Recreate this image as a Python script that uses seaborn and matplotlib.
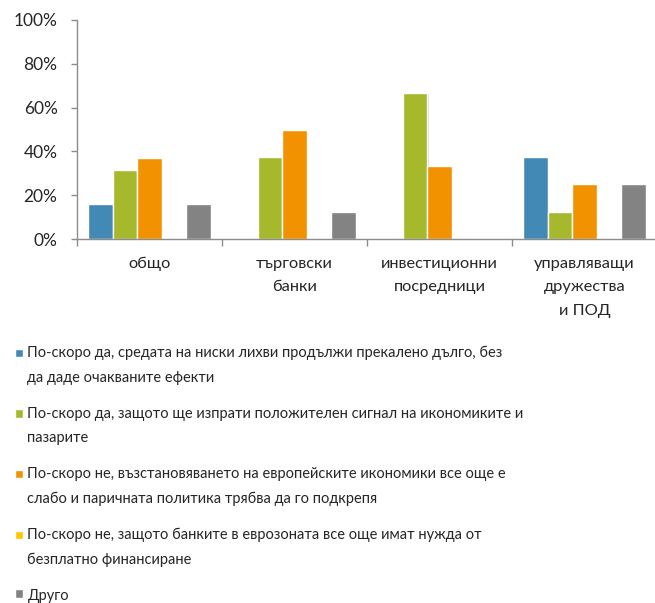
import matplotlib
matplotlib.use("Agg")
import matplotlib.pyplot as plt
import matplotlib.patheffects as pe
import seaborn as sns
import pandas as pd
from matplotlib.patches import Rectangle
from matplotlib.legend_handler import HandlerPatch
from matplotlib.ticker import FixedLocator, PercentFormatter

# Survey groups (x axis)
categories = ["общо", "търговски\nбанки", "инвестиционни\nпосредници",
              "управляващи\nдружества\nи ПОД"]

# Answer options (legend), with their line breaks
answers = [
    "По-скоро да, средата на ниски лихви продължи прекалено дълго, без\nда даде очакваните ефекти",
    "По-скоро да, защото ще изпрати положителен сигнал на икономиките и\nпазарите",
    "По-скоро не, възстановяването на европейските икономики все още е\nслабо и паричната политика трябва да го подкрепя",
    "По-скоро не, защото банките в еврозоната все още имат нужда от\nбезплатно финансиране",
    "Друго",
]

# Share of respondents (%) per answer, one value per group
too_long = [15.8, 0.0, 0.0, 37.5]
positive_signal = [31.6, 37.5, 66.7, 12.5]
recovery_weak = [36.8, 50.0, 33.3, 25.0]
banks_need_funding = [0.0, 0.0, 0.0, 0.0]
other = [15.8, 12.5, 0.0, 25.0]

series = [too_long, positive_signal, recovery_weak, banks_need_funding, other]
colors = ["#4389B5", "#A6B82C", "#F39200", "#FFC600", "#838383"]

rows = []
for ans, vals in zip(answers, series):
    for cat, v in zip(categories, vals):
        rows.append({"group": cat, "answer": ans, "share": v})
df = pd.DataFrame(rows)

sns.set_style("white")
plt.rcParams["font.family"] = ["Lato", "DejaVu Sans"]
text_color = "#262626"
axis_color = "#8C8C8C"

fig = plt.figure(figsize=(6.55, 6.03), dpi=100)
ax = fig.add_axes([77 / 655, 1 - 239 / 603, 580 / 655, 219 / 603])

sns.barplot(data=df, x="group", y="share", hue="answer", order=categories,
            hue_order=answers, palette=colors, width=0.845, gap=0,
            edgecolor="white", linewidth=1.0, saturation=1, ax=ax, legend=True)

# soft drop shadow behind the bars
for bar in ax.patches:
    if bar.get_height() > 0:
        bar.set_path_effects([
            pe.SimplePatchShadow(offset=(1.2, -1.2), shadow_rgbFace="#9a9a9a",
                                 alpha=0.35),
            pe.Normal(),
        ])

ax.set_xlim(-0.5, 3.5)
ax.set_ylim(0, 100)
ax.yaxis.set_major_locator(FixedLocator([0, 20, 40, 60, 80, 100]))
ax.yaxis.set_major_formatter(PercentFormatter(decimals=0))
ax.set_xlabel("")
ax.set_ylabel("")

for side in ["top", "right"]:
    ax.spines[side].set_visible(False)
for side in ["left", "bottom"]:
    ax.spines[side].set_color(axis_color)
    ax.spines[side].set_linewidth(1.0)
    ax.spines[side].set_zorder(3)

ax.tick_params(axis="y", which="major", direction="out", length=4.3, width=1,
               color=axis_color, labelsize=12.5, labelcolor=text_color, pad=9.7,
               left=True)
ax.set_xticks(range(len(categories)))
ax.set_xticklabels(categories, linespacing=1.85)
ax.tick_params(axis="x", which="major", length=0, labelsize=11.8,
               labelcolor=text_color, pad=13)
ax.set_xticks([-0.5, 0.5, 1.5, 2.5, 3.5], minor=True)
ax.tick_params(axis="x", which="minor", direction="out", length=5, width=1,
               color=axis_color, bottom=True)

LEGEND_FS = 10.5
LINE_GAP_PT = 23 * 72 / 100  # distance between wrapped lines, in points


def first_line_square(n_lines):
    # keep the colour square level with the first line of a wrapped label
    shift = (n_lines - 1) * LINE_GAP_PT / 2

    def make(legend, orig_handle, xdescent, ydescent, width, height, fontsize):
        return Rectangle((-xdescent, -ydescent + shift + 0.8), width, height)
    return make


handles, labels = ax.get_legend_handles_labels()
ax.get_legend().remove()
handler_map = {h: HandlerPatch(patch_func=first_line_square(lab.count("\n") + 1))
               for h, lab in zip(handles, labels)}
leg = fig.legend(handles, labels, loc="upper left",
                 bbox_to_anchor=(15 / 655, 1 - 346 / 603), frameon=False,
                 fontsize=LEGEND_FS, handlelength=0.55, handleheight=0.55,
                 handletextpad=0.3, labelspacing=1.51, borderpad=0,
                 borderaxespad=0, handler_map=handler_map)
for t in leg.get_texts():
    t.set_color(text_color)
    t.set_linespacing(1.93)

fig.savefig("out.png", dpi=100, facecolor="white")
